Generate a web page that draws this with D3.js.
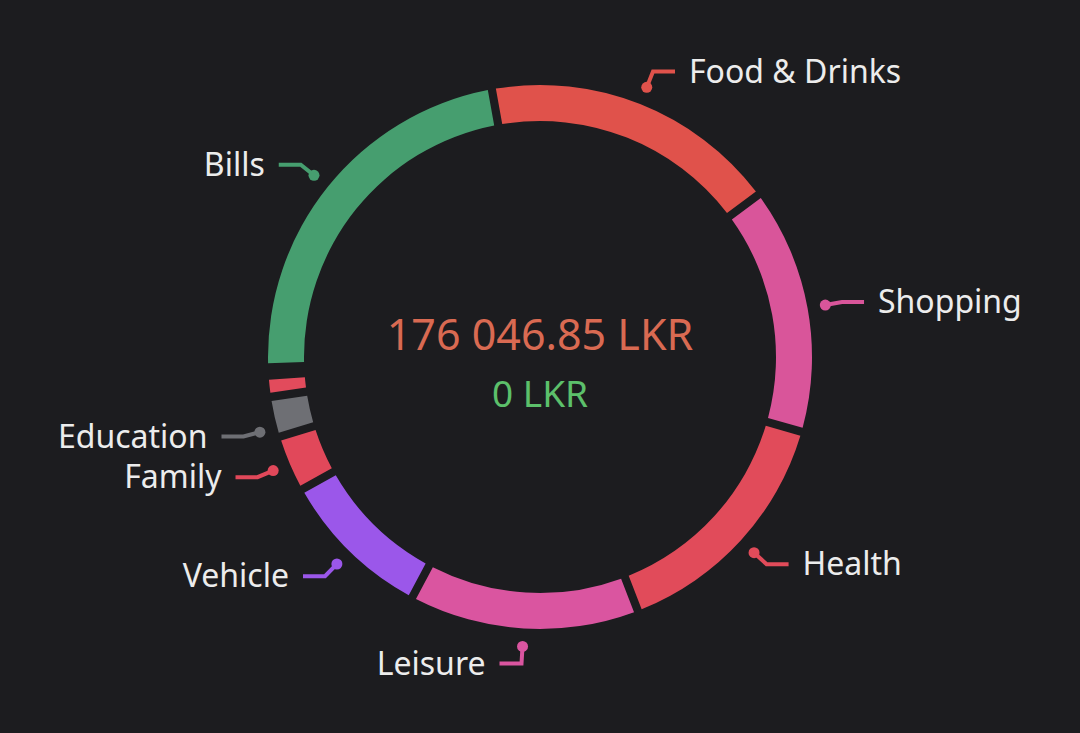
<!DOCTYPE html>
<html>
<head>
<meta charset="UTF-8">
<style>
    body { margin: 0; background: #1c1c1f; }
    svg { display: block; font-family: "Noto Sans", "Open Sans", sans-serif; }
</style>
</head>
<body>
<svg id="chart" width="1080" height="733"></svg>
<script src="https://cdn.jsdelivr.net/npm/d3@7"></script>
<script>
// categories clockwise from the top
const categories = ["Food & Drinks", "Shopping", "Health", "Leisure", "Vehicle", "Family", "Education", "", "", "Bills"];
const amounts = [31100, 25700, 25900, 24000, 16100, 5900, 4200, 2200, 846.85, 40100];
const colors = ["#e0524b", "#d9559a", "#e14b5a", "#da55a0", "#9b57ea", "#e1485a", "#6e6f74", "#e24b5c", "#4fb3d9", "#469e6f"];
const totalLabel = "176 046.85 LKR";
const incomeLabel = "0 LKR";

const svg = d3.select("#chart");
const cx = 540, cy = 357, outerR = 272, innerR = 236;
const g = svg.append("g").attr("transform", `translate(${cx},${cy})`);

const start = -10.2 * Math.PI / 180;
const pie = d3.pie().sort(null).startAngle(start).endAngle(start + 2 * Math.PI);
const arcs = pie(amounts);
const arc = d3.arc().innerRadius(innerR).outerRadius(outerR).padAngle(0.03).padRadius(272);

g.selectAll("path.slice").data(arcs).join("path")
    .attr("class", "slice")
    .attr("d", arc)
    .attr("fill", (d, i) => colors[i]);

// labels with leader lines
const labelled = arcs.map((d, i) => ({ d, i })).filter(o => categories[o.i] !== "");
labelled.forEach(({ d, i }) => {
    let a = (d.startAngle + d.endAngle) / 2;
    if (categories[i] === "Education") a -= 0.04;
    const sx = Math.sin(a), sy = -Math.cos(a);
    const p1 = [sx * 290, sy * 290];
    const p2 = [sx * 307, sy * 307];
    const side = sx >= 0 ? 1 : -1;
    const p3 = [p2[0] + side * 22, p2[1]];
    g.append("polyline")
        .attr("points", [p1, p2, p3].map(p => p.join(",")).join(" "))
        .attr("fill", "none").attr("stroke", colors[i]).attr("stroke-width", 4);
    g.append("circle").attr("cx", p1[0]).attr("cy", p1[1]).attr("r", 5.5).attr("fill", colors[i]);
    g.append("text")
        .attr("x", p3[0] + side * 14).attr("y", p3[1])
        .attr("dy", "0.35em")
        .attr("text-anchor", side > 0 ? "start" : "end")
        .attr("fill", "#ececec").attr("font-size", 32)
        .text(categories[i]);
});

g.append("text").attr("y", -22).attr("text-anchor", "middle").attr("dy", "0.35em")
    .attr("fill", "#d96a52").attr("font-size", 43).text(totalLabel);
g.append("text").attr("y", 37).attr("text-anchor", "middle").attr("dy", "0.35em")
    .attr("fill", "#5cc06b").attr("font-size", 37).text(incomeLabel);
</script>
</body>
</html>
